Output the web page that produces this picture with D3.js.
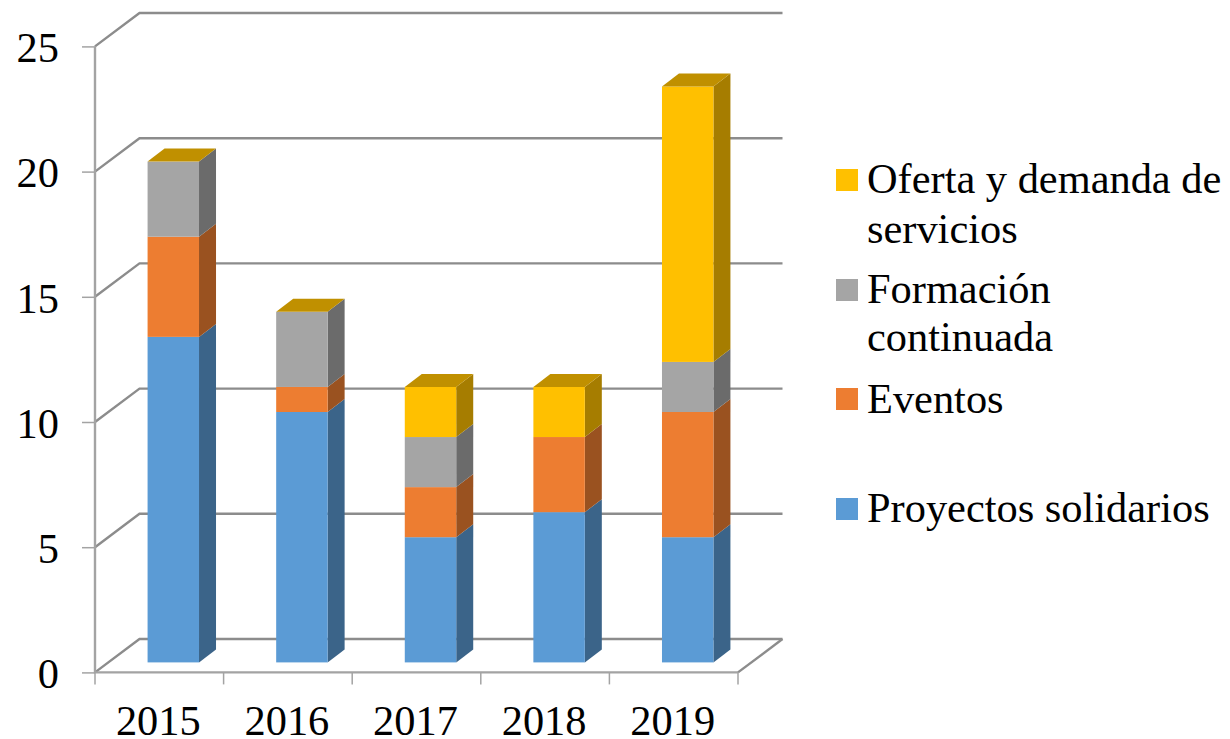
<!DOCTYPE html>
<html>
<head>
<meta charset="utf-8">
<script src="https://cdnjs.cloudflare.com/ajax/libs/d3/7.8.5/d3.min.js"></script>
<style>
html, body { margin: 0; padding: 0; background: #fff; }
text { font-family: "Liberation Serif", serif; fill: #000; }
</style>
</head>
<body>
<script>
const years = ["2015", "2016", "2017", "2018", "2019"];
const proyectos = [13, 10, 5, 6, 5];
const eventos = [4, 1, 2, 3, 5];
const formacion = [3, 3, 2, 0, 2];
const oferta = [0, 0, 2, 2, 11];
const yTicks = [0, 5, 10, 15, 20, 25];
const seriesKeys = ["proyectos", "eventos", "formacion", "oferta"];
const frontColors = ["#5b9bd5", "#ed7d31", "#a5a5a5", "#ffc000"];
const sideColors = ["#3b6489", "#9a5220", "#6b6b6b", "#a67d00"];
const topColor = "#c09000";

const width = 1230, height = 739;
const fontSize = 42.4;
// 3d offsets: wall depth, bar position inside the floor, bar depth
const wall = { dx: 44.5, dy: -33.4 };
const inset = { dx: 14, dy: -10 };
const depth = { dx: 17, dy: -13 };
const gridColor = "#8c8c8c";
const axisColor = "#a3a3a3";

const svg = d3.select("body").append("svg")
	.attr("width", width)
	.attr("height", height)
	.style("display", "block");

const x = d3.scaleBand()
	.domain(years)
	.range([95, 738])
	.paddingInner(0.6)
	.paddingOuter(0.3);

const y = d3.scaleLinear()
	.domain([0, 25])
	.range([672.4, 46.4]);

const table = years.map((year, i) => ({
	year,
	proyectos: proyectos[i],
	eventos: eventos[i],
	formacion: formacion[i],
	oferta: oferta[i]
}));
const stacked = d3.stack().keys(seriesKeys)(table);

// walls and floor
const grid = svg.append("g")
	.attr("fill", "none")
	.attr("stroke", gridColor)
	.attr("stroke-width", 2.4);

grid.selectAll("path")
	.data(yTicks)
	.join("path")
	.attr("d", d => `M${x.range()[0]},${y(d)}L${x.range()[0] + wall.dx},${y(d) + wall.dy}L${x.range()[1] + wall.dx},${y(d) + wall.dy}`);

grid.append("path")
	.attr("d", `M${x.range()[1]},${y(0)}L${x.range()[1] + wall.dx},${y(0) + wall.dy}`);

// axes
const axisLeft = svg.append("g")
	.attr("transform", `translate(${x.range()[0]},0)`)
	.call(d3.axisLeft(y).tickValues(yTicks).tickSize(13).tickPadding(23));
axisLeft.select(".domain").remove();
axisLeft.selectAll("line").attr("stroke", axisColor).attr("stroke-width", 1.5);
axisLeft.selectAll("text")
	.attr("font-size", fontSize)
	.attr("font-family", null)
	.attr("dy", null)
	.attr("y", 15.3);

svg.append("path")
	.attr("fill", "none")
	.attr("stroke", axisColor)
	.attr("stroke-width", 2.4)
	.attr("d", `M${x.range()[0]},${y(25)}L${x.range()[0]},${y(0)}L${x.range()[1]},${y(0)}`);

const tickEdges = x.domain().map(d => x(d) - x.step() * x.paddingInner() / 2);
tickEdges.push(x.range()[1]);
svg.append("g")
	.selectAll("line")
	.data(tickEdges)
	.join("line")
	.attr("x1", d => d)
	.attr("x2", d => d)
	.attr("y1", y(0))
	.attr("y2", y(0) + 12)
	.attr("stroke", axisColor)
	.attr("stroke-width", 1.5);

svg.append("g")
	.selectAll("text")
	.data(years)
	.join("text")
	.attr("x", d => x(d) + x.bandwidth() / 2 - 1)
	.attr("y", 735)
	.attr("text-anchor", "middle")
	.attr("font-size", fontSize)
	.text(d => d);

// bars
const bars = svg.append("g");
const w = x.bandwidth();
const left = d => x(d.data.year) + inset.dx;
const yv = v => y(v) + inset.dy;

stacked.forEach((layer, s) => {
	const g = bars.append("g");
	const rows = layer.filter(d => d[1] > d[0]);
	g.selectAll(".side")
		.data(rows)
		.join("path")
		.attr("class", "side")
		.attr("fill", sideColors[s])
		.attr("d", d => `M${left(d) + w},${yv(d[0])}L${left(d) + w + depth.dx},${yv(d[0]) + depth.dy}L${left(d) + w + depth.dx},${yv(d[1]) + depth.dy}L${left(d) + w},${yv(d[1])}Z`);
	g.selectAll(".front")
		.data(rows)
		.join("rect")
		.attr("class", "front")
		.attr("fill", frontColors[s])
		.attr("x", d => left(d))
		.attr("y", d => yv(d[1]))
		.attr("width", w)
		.attr("height", d => yv(d[0]) - yv(d[1]));
});

// every column is capped with the same gold top
const totals = years.map((year, i) => ({
	data: { year },
	total: proyectos[i] + eventos[i] + formacion[i] + oferta[i]
}));
bars.append("g")
	.selectAll("path")
	.data(totals)
	.join("path")
	.attr("fill", topColor)
	.attr("d", d => {
		const t = yv(d.total);
		return `M${left(d)},${t}L${left(d) + w},${t}L${left(d) + w + depth.dx},${t + depth.dy}L${left(d) + depth.dx},${t + depth.dy}Z`;
	});

// legend, top entry is the last series
const legendRows = [
	{ s: 3, box: 169, lines: [["Oferta y demanda de", 193], ["servicios", 243]] },
	{ s: 2, box: 279, lines: [["Formación", 303], ["continuada", 351]] },
	{ s: 1, box: 388, lines: [["Eventos", 413]] },
	{ s: 0, box: 498, lines: [["Proyectos solidarios", 522]] }
];
const legend = svg.append("g");
legendRows.forEach(row => {
	legend.append("rect")
		.attr("x", 836)
		.attr("y", row.box)
		.attr("width", 22)
		.attr("height", 22)
		.attr("fill", frontColors[row.s]);
	row.lines.forEach(([label, base]) => {
		legend.append("text")
			.attr("x", 867)
			.attr("y", base)
			.attr("font-size", fontSize)
			.text(label);
	});
});
</script>
</body>
</html>
